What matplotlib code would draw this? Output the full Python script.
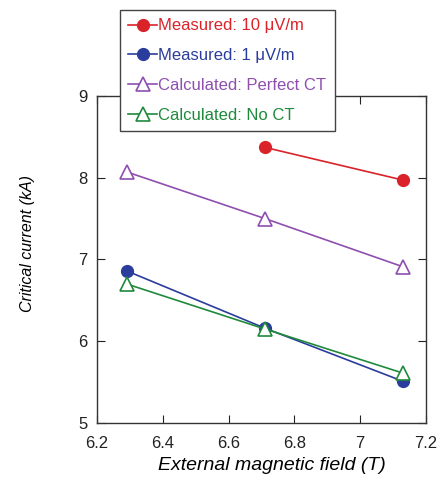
import matplotlib
matplotlib.use("Agg")
import matplotlib.pyplot as plt

plt.rcParams['font.family'] = ['Liberation Sans', 'DejaVu Sans']

field = [6.29, 6.71, 7.13]
meas10_x = [6.71, 7.13]
meas10 = [8.37, 7.97]
meas1 = [6.86, 6.16, 5.51]
calc_perfect = [8.07, 7.50, 6.91]
calc_none = [6.70, 6.15, 5.61]

labels = ["Measured: 10 \u03bcV/m", "Measured: 1 \u03bcV/m",
          "Calculated: Perfect CT", "Calculated: No CT"]
colors = ["#d9222a", "#2b3d9c", "#8e4fb0", "#1f8a3c"]

fig = plt.figure(figsize=(4.41, 4.84), dpi=100)
ax = fig.add_axes([0.220, 0.126, 0.746, 0.676])

ax.plot(meas10_x, meas10, '-o', color=colors[0], ms=8.5, lw=1.2, label=labels[0])
ax.plot(field, meas1, '-o', color=colors[1], ms=8.5, lw=1.2, label=labels[1])
ax.plot(field, calc_perfect, '-^', color=colors[2], ms=9.5, lw=1.2,
        mfc='white', mew=1.2, label=labels[2])
ax.plot(field, calc_none, '-^', color=colors[3], ms=9.5, lw=1.2,
        mfc='white', mew=1.2, label=labels[3])

ax.set_xlim(6.2, 7.2)
ax.set_ylim(5, 9)
ax.set_xticks([6.2, 6.4, 6.6, 6.8, 7.0, 7.2])
ax.set_xticklabels(["6.2", "6.4", "6.6", "6.8", "7", "7.2"])
ax.set_yticks([5, 6, 7, 8, 9])
ax.tick_params(direction='in', top=True, right=True, length=6, width=0.8,
               labelsize=12, colors='#222222')
ax.tick_params(axis='x', pad=9)
ax.tick_params(axis='y', pad=7)
for s in ax.spines.values():
    s.set_color('#333333')
    s.set_linewidth(1.0)

ax.set_xlabel("External magnetic field (T)", fontsize=14, style='italic')
ax.set_ylabel("Critical current (kA)", fontsize=11.5, style='italic')
ax.xaxis.set_label_coords(0.53, -0.104)
ax.yaxis.set_label_coords(-0.19, 0.55)

leg = ax.legend(loc='upper left', bbox_to_anchor=(0.272, 0.979),
                bbox_transform=fig.transFigure, fontsize=12, fancybox=False,
                edgecolor='#444444', framealpha=1, handlelength=1.75,
                handletextpad=0.05, labelspacing=0.89, borderpad=0.5,
                borderaxespad=0)
leg.get_frame().set_linewidth(1.0)
for t, c in zip(leg.get_texts(), colors):
    t.set_color(c)

fig.savefig("out.png", dpi=100)
